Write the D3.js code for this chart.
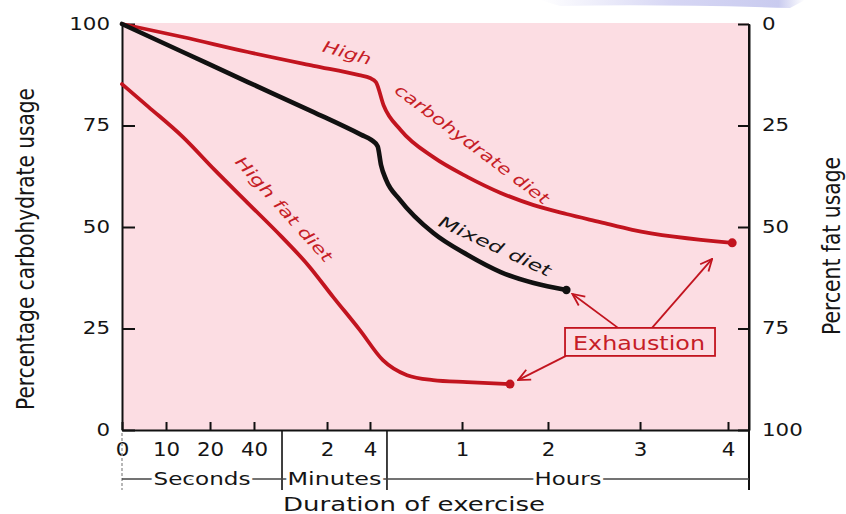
<!DOCTYPE html>
<html><head><meta charset="utf-8">
<script src="https://cdn.jsdelivr.net/npm/d3@7"></script>
<style>
html,body{margin:0;padding:0;background:#fff;}
svg{display:block;font-family:"DejaVu Sans",sans-serif;}
</style></head><body>
<svg id="chart" width="846" height="514"></svg>
<script>
// ---------- data ----------
// time in minutes; x axis is a broken (piecewise) scale: seconds | minutes | hours
const timeBreaks = [0, 1/6, 1/3, 2/3, 1, 2, 4, 5, 60, 120, 180, 240, 255];
const xTickValues = [0, 1/6, 1/3, 2/3, 2, 4, 60, 120, 180, 240];
const xTickLabels = ["0", "10", "20", "40", "2", "4", "1", "2", "3", "4"];
const sectionNames = ["Seconds", "Minutes", "Hours"];
const sectionBounds = [0, 1, 5, 255];
const carbTicks = [0, 25, 50, 75, 100];
const fatTicks = [0, 25, 50, 75, 100];

const highCarbTime  = [0, 0.23, 0.62, 1.7, 3.5, 4, 4.35, 4.8, 15, 39, 64, 87, 110, 132, 154, 175, 243];
const highCarbValue = [100, 96.8, 93.1, 89.7, 87.4, 86.7, 85.7, 80.0, 73.9, 67.2, 62.3, 58.4, 55.4, 53.2, 51.2, 49.3, 46.1];

const mixedTime  = [0, 0.23, 0.62, 1.7, 3.6, 4.1, 4.45, 4.65, 4.95, 14.5, 39, 64, 87, 110, 132];
const mixedValue = [100, 93.1, 85.7, 78.3, 72.7, 71.4, 69.9, 65.3, 61.6, 56.7, 48.5, 43.1, 38.9, 36.2, 34.5];

const highFatTime  = [0, 0.1, 0.23, 0.37, 0.62, 1.0, 1.58, 2.28, 3.53, 4.76, 19.7, 38.7, 63.5, 93.5];
const highFatValue = [85.2, 79.6, 72.2, 64.0, 55.9, 47.5, 40.6, 32.8, 24.6, 17.2, 13.5, 12.3, 11.8, 11.3];

// ---------- layout ----------
const W = 846, H = 514;
const margin = {top: 24, right: 97, bottom: 84, left: 122};
const innerW = W - margin.left - margin.right;
const innerH = H - margin.top - margin.bottom;
const xRangeFrac = [0, .0702, .1404, .2105, .2552, .3270, .3955, .4226, .5423, .6794, .8262, .9665, 1];
const RED = "#c2141f", RED_TXT = "#c61d27", PINK = "#fcdde3";
const DIGIT_W = 13.6;

const svg = d3.select("#chart");
const x = d3.scaleLinear().domain(timeBreaks).range(xRangeFrac.map(f => margin.left + f * innerW));
const yCarb = d3.scaleLinear().domain([0, 100]).range([margin.top + innerH, margin.top]);
const yFat = d3.scaleLinear().domain([0, 100]).range([margin.top, margin.top + innerH]);
const x0 = margin.left, x1 = margin.left + innerW, yTop = margin.top, yBot = margin.top + innerH;

// faint slide decoration at top
const defs = svg.append("defs");
const g1 = defs.append("linearGradient").attr("id", "deco").attr("x1", 0).attr("x2", 1);
g1.append("stop").attr("offset", 0).attr("stop-color", "#ffffff");
g1.append("stop").attr("offset", 0.5).attr("stop-color", "#d6d6f4");
g1.append("stop").attr("offset", 0.9).attr("stop-color", "#c9cbef");
g1.append("stop").attr("offset", 1).attr("stop-color", "#ffffff");
svg.append("path").attr("d", `M540,0 L805,0 L790,8 Q660,4 560,6 Z`).attr("fill", "url(#deco)");

// arrow marker
defs.append("marker").attr("id", "arr").attr("viewBox", "0 0 14 14")
  .attr("refX", 13).attr("refY", 7).attr("markerWidth", 14).attr("markerHeight", 14)
  .attr("markerUnits", "userSpaceOnUse").attr("orient", "auto")
  .append("path").attr("d", "M1,1.5 L13,7 L1,12.5").attr("fill", "none")
  .attr("stroke", RED).attr("stroke-width", 1.8);

// plot background
svg.append("rect").attr("x", x0).attr("y", yTop - 1).attr("width", innerW).attr("height", innerH + 1).attr("fill", PINK);

// ---------- axes ----------
const axL = svg.append("g").attr("transform", `translate(${x0},0)`)
  .call(d3.axisLeft(yCarb).tickValues(carbTicks).tickSize(-13).tickSizeOuter(0).tickPadding(12));
const axR = svg.append("g").attr("transform", `translate(${x1},0)`)
  .call(d3.axisRight(yFat).tickValues(fatTicks).tickSize(-11).tickSizeOuter(0).tickPadding(13));
const axB = svg.append("g").attr("transform", `translate(0,${yBot})`)
  .call(d3.axisBottom(x).tickValues(xTickValues).tickFormat((d, i) => xTickLabels[i]).tickSize(-8).tickSizeOuter(0).tickPadding(13));
[axL, axR, axB].forEach(a => {
  a.selectAll("path.domain").attr("stroke", "#111").attr("stroke-width", 2);
  a.selectAll(".tick line").attr("stroke", "#111").attr("stroke-width", 2);
  a.selectAll("text").attr("fill", "#151515").attr("font-family", "DejaVu Sans")
    .attr("lengthAdjust", "spacingAndGlyphs")
    .attr("textLength", function() { return this.textContent.length * DIGIT_W; });
});
axL.selectAll("text").attr("font-size", 17);
axR.selectAll("text").attr("font-size", 17);
axB.selectAll("text").attr("font-size", 19);

// extended right axis line and section dividers
const yBr = 479, yEnd = 490;
svg.append("line").attr("x1", x1).attr("x2", x1).attr("y1", yTop).attr("y2", yEnd).attr("stroke", "#111").attr("stroke-width", 2);
sectionBounds.slice(1, 3).forEach(b => {
  svg.append("line").attr("x1", x(b)).attr("x2", x(b)).attr("y1", yBot).attr("y2", yEnd).attr("stroke", "#111").attr("stroke-width", 1.6);
});
svg.append("line").attr("x1", x(sectionBounds[0])).attr("x2", x(sectionBounds[0])).attr("y1", yBot + 3).attr("y2", yEnd)
  .attr("stroke", "#999").attr("stroke-width", 1.4).attr("stroke-dasharray", "3,2");
svg.append("line").attr("x1", x(sectionBounds[0])).attr("x2", x(sectionBounds[3])).attr("y1", yBr).attr("y2", yBr)
  .attr("stroke", "#444").attr("stroke-width", 1.3);
const secLen = [97, 94, 67];
sectionNames.forEach((n, i) => {
  svg.append("text").attr("x", (x(sectionBounds[i]) + x(sectionBounds[i + 1])) / 2).attr("y", 485)
    .attr("text-anchor", "middle").attr("font-size", 17).attr("fill", "#151515")
    .attr("textLength", secLen[i]).attr("lengthAdjust", "spacingAndGlyphs")
    .attr("stroke", "#fff").attr("stroke-width", 5).attr("paint-order", "stroke").text(n);
});

// axis titles
svg.append("text").attr("x", (x0 + x1) / 2 - 21.5).attr("y", 511).attr("text-anchor", "middle")
  .attr("font-size", 19).attr("fill", "#151515").attr("textLength", 262).attr("lengthAdjust", "spacingAndGlyphs")
  .text("Duration of exercise");
svg.append("text").attr("transform", `translate(34,${(yTop + yBot) / 2 + 22}) rotate(-90)`).attr("text-anchor", "middle")
  .attr("font-size", 24).attr("fill", "#151515").attr("textLength", 322).attr("lengthAdjust", "spacingAndGlyphs")
  .text("Percentage carbohydrate usage");
svg.append("text").attr("transform", `translate(840,${(yTop + yBot) / 2 + 19}) rotate(-90)`).attr("text-anchor", "middle")
  .attr("font-size", 24).attr("fill", "#151515").attr("textLength", 178).attr("lengthAdjust", "spacingAndGlyphs")
  .text("Percent fat usage");

// ---------- curves ----------
const zip = (t, v) => t.map((d, i) => ({t: d, v: v[i]}));
const series = [
  {pts: zip(highFatTime, highFatValue), color: RED, w: 3.8, r: 4.5},
  {pts: zip(highCarbTime, highCarbValue), color: RED, w: 3.8, r: 4.5},
  {pts: zip(mixedTime, mixedValue), color: "#111", w: 4.6, r: 4.2}
];
const line = d3.line().x(d => x(d.t)).y(d => yCarb(d.v)).curve(d3.curveMonotoneX);
series.forEach(s => {
  svg.append("path").attr("d", line(s.pts)).attr("fill", "none").attr("stroke", s.color)
    .attr("stroke-width", s.w).attr("stroke-linejoin", "round").attr("stroke-linecap", "round");
  const e = s.pts[s.pts.length - 1];
  svg.append("circle").attr("cx", x(e.t)).attr("cy", yCarb(e.v)).attr("r", s.r).attr("fill", s.color);
});

// curve labels (anchored in data coordinates)
const labels = [
  {text: "High", t: 2.93, v: 92.9, a: 16, len: 50, fs: 16, c: RED_TXT},
  {text: "carbohydrate diet", t: 67, v: 70.4, a: 37, len: 188, fs: 16, c: RED_TXT},
  {text: "High fat diet", t: 1.04, v: 54.4, a: 48, len: 136, fs: 16, c: RED_TXT},
  {text: "Mixed diet", t: 83, v: 45.3, a: 25, len: 122, fs: 16, c: "#151515"}
];
labels.forEach(l => {
  svg.append("text").attr("transform", `translate(${x(l.t)},${yCarb(l.v)}) rotate(${l.a})`)
    .attr("text-anchor", "middle").attr("dy", "0.35em").attr("font-size", l.fs).attr("font-style", "italic")
    .attr("fill", l.c).attr("textLength", l.len).attr("lengthAdjust", "spacingAndGlyphs").text(l.text);
});

// Exhaustion box + arrows
const bx = x(180), by = yCarb(21.7), bw = 150, bh = 28;
const ends = series.map(s => s.pts[s.pts.length - 1]).map(e => [x(e.t), yCarb(e.v)]);
const arrows = [
  {from: [bx - 22, by - bh / 2], to: [ends[2][0] + 6, ends[2][1] + 4]},
  {from: [bx + 12, by - bh / 2], to: [ends[1][0] - 20, ends[1][1] + 16]},
  {from: [bx - bw / 2 + 1, by + bh / 2], to: [ends[0][0] + 8, ends[0][1] - 4]}
];
arrows.forEach(a => {
  svg.append("line").attr("x1", a.from[0]).attr("y1", a.from[1]).attr("x2", a.to[0]).attr("y2", a.to[1])
    .attr("stroke", RED).attr("stroke-width", 1.8).attr("marker-end", "url(#arr)");
});
svg.append("rect").attr("x", bx - bw / 2).attr("y", by - bh / 2).attr("width", bw).attr("height", bh)
  .attr("fill", PINK).attr("stroke", RED).attr("stroke-width", 1.8);
svg.append("text").attr("x", bx - 1).attr("y", by + 8).attr("text-anchor", "middle").attr("font-size", 19)
  .attr("fill", RED_TXT).attr("textLength", 132).attr("lengthAdjust", "spacingAndGlyphs").text("Exhaustion");
</script>
</body></html>
